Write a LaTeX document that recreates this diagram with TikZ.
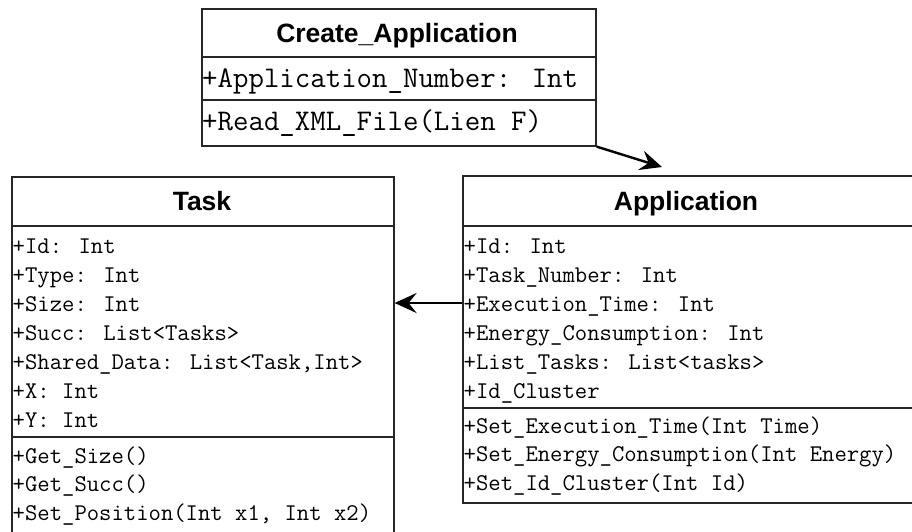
\documentclass[tikz,border=0pt]{standalone}
\usepackage{fontspec}
\setmainfont{Liberation Sans}
\newfontfamily\umlmono{Latin Modern Mono}
\usetikzlibrary{arrows.meta}
\begin{document}
\begin{tikzpicture}[x=1pt,y=-1pt,
  classbox/.style={draw=black!85, line width=1.6pt, inner sep=0pt, anchor=north west},
  divider/.style={draw=black!85, line width=1.4pt},
  member/.style={anchor=base west, inner sep=0pt, font=\umlmono\fontsize{24}{28}\selectfont},
  bigmember/.style={anchor=base west, inner sep=0pt, font=\umlmono\fontsize{30}{34}\selectfont},
  classname/.style={anchor=base, inner sep=0pt, font=\bfseries\fontsize{26.5}{30}\selectfont},
  assoc/.style={-{Stealth[length=22pt,width=20pt,inset=8pt]}, line width=2.4pt, draw=black}]
\useasboundingbox (0,0) rectangle (912,531);
\clip (0,0) rectangle (912,531);

% class frames
\node[classbox, minimum width=394pt, minimum height=137pt] (create) at (201,8) {};
\node[classbox, minimum width=382pt, minimum height=400pt] (task) at (11,176) {};
\node[classbox, minimum width=460pt, minimum height=327pt] (app) at (462,175) {};

% compartment dividers
\draw[divider] (create.north west |- 0,57) -- (create.north east |- 0,57);
\draw[divider] (create.north west |- 0,100) -- (create.north east |- 0,100);
\draw[divider] (task.north west |- 0,226) -- (task.north east |- 0,226);
\draw[divider] (task.north west |- 0,437) -- (task.north east |- 0,437);
\draw[divider] (app.north west |- 0,226) -- (app.north east |- 0,226);
\draw[divider] (app.north west |- 0,408) -- (app.north east |- 0,408);

% Create_Application
\node[classname] (createname) at (397,42) {Create\_Application};
\node[bigmember] (ca1) at (202,87) {+Application\_Number: Int};
\node[bigmember] (cm1) at (202,130) {+Read\_XML\_File(Lien F)};

% Task
\node[classname] (taskname) at (202,210) {Task};
\node[member] (ta1) at (12.5,253) {+Id: Int};
\node[member] (ta2) at (12.5,282) {+Type: Int};
\node[member] (ta3) at (12.5,311) {+Size: Int};
\node[member] (ta4) at (12.5,340) {+Succ: List<Tasks>};
\node[member] (ta5) at (12.5,369) {+Shared\_Data: List<Task,Int>};
\node[member] (ta6) at (12.5,398) {+X: Int};
\node[member] (ta7) at (12.5,427) {+Y: Int};
\node[member] (tm1) at (12.5,463) {+Get\_Size()};
\node[member] (tm2) at (12.5,491.5) {+Get\_Succ()};
\node[member] (tm3) at (12.5,520) {+Set\_Position(Int x1, Int x2)};

% Application
\node[classname] (appname) at (686,210) {Application};
\node[member] (aa1) at (463.5,253) {+Id: Int};
\node[member] (aa2) at (463.5,282) {+Task\_Number: Int};
\node[member] (aa3) at (463.5,311) {+Execution\_Time: Int};
\node[member] (aa4) at (463.5,340) {+Energy\_Consumption: Int};
\node[member] (aa5) at (463.5,369) {+List\_Tasks: List<tasks>};
\node[member] (aa6) at (463.5,398) {+Id\_Cluster};
\node[member] (am1) at (463.5,433) {+Set\_Execution\_Time(Int Time)};
\node[member] (am2) at (463.5,461.5) {+Set\_Energy\_Consumption(Int Energy)};
\node[member] (am3) at (463.5,490) {+Set\_Id\_Cluster(Int Id)};

% associations
\coordinate (appin) at (662,167);
\draw[assoc] (create.south east) -- (appin);
\draw[assoc] (app.north west |- 0,303) -- (task.north east |- 0,303);
\end{tikzpicture}
\end{document}
